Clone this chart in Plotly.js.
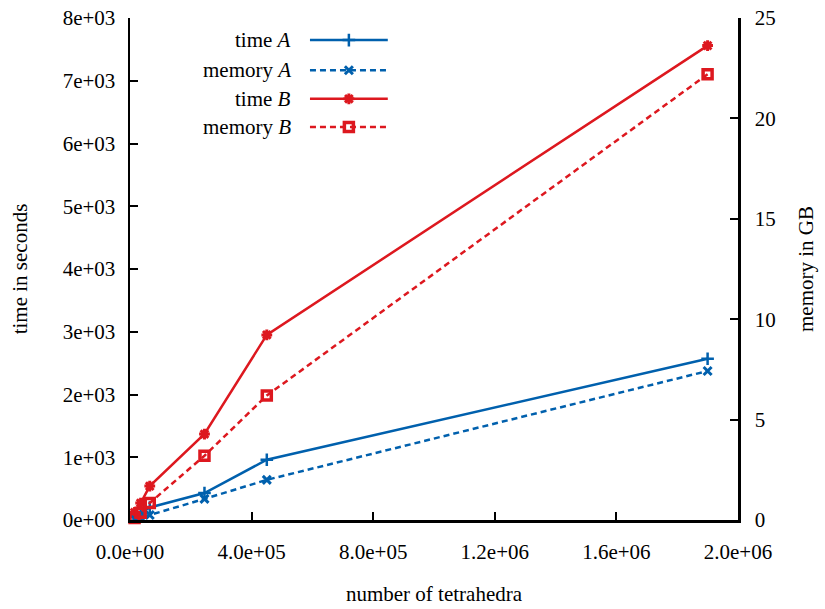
<!DOCTYPE html>
<html>
<head>
<meta charset="utf-8">
<script src="https://cdn.plot.ly/plotly-3.0.1.min.js"></script>
<style>html,body{margin:0;padding:0;background:#fff;}#chart{width:825px;height:609px;}</style>
</head>
<body>
<div id="chart"></div>
<script>
// ---- data ----
const tetrahedra = [15000, 35000, 65000, 245000, 450000, 1900000];
const timeA = [50, 110, 200, 430, 960, 2570];
const memoryA = [0.05, 0.12, 0.25, 1.05, 2.0, 7.42];
const timeB = [120, 270, 540, 1370, 2950, 7560];
const memoryB = [0.1, 0.36, 0.85, 3.2, 6.2, 22.2];

const seriesNames = ['time <i>A</i>', 'memory <i>A</i>', 'time <i>B</i>', 'memory <i>B</i>'];

const xTickVals = [0, 400000, 800000, 1200000, 1600000, 2000000];
const xTickText = ['0.0e+00', '4.0e+05', '8.0e+05', '1.2e+06', '1.6e+06', '2.0e+06'];
const yTickVals = [0, 1000, 2000, 3000, 4000, 5000, 6000, 7000, 8000];
const yTickText = ['0e+00', '1e+03', '2e+03', '3e+03', '4e+03', '5e+03', '6e+03', '7e+03', '8e+03'];
const y2TickVals = [0, 5, 10, 15, 20, 25];
const y2TickText = ['0', '5', '10', '15', '20', '25'];

// ---- styles ----
const BLUE = '#0060ad';
const RED = '#dd181f';
const FONT = 'Liberation Serif, Times New Roman, serif';
const FS = 21;

const styles = [
  {color: BLUE, dash: 'solid', symbol: 'cross-thin-open', size: 9, lw: 2.5, mlw: 2.5, yaxis: 'y'},
  {color: BLUE, dash: '6px,4px', symbol: 'x-thin-open', size: 8, lw: 2.5, mlw: 3, yaxis: 'y2'},
  {color: RED, dash: 'solid', symbol: 'asterisk-open', size: 9, lw: 2.5, mlw: 3, yaxis: 'y'},
  {color: RED, dash: '6px,4px', symbol: 'square-open', size: 9, lw: 2.5, mlw: 3.5, yaxis: 'y2'}
];
const seriesData = [timeA, memoryA, timeB, memoryB];

const traces = seriesData.map((ys, i) => ({
  type: 'scatter', mode: 'lines+markers',
  x: tetrahedra, y: ys, yaxis: styles[i].yaxis,
  name: seriesNames[i], showlegend: false, cliponaxis: false,
  line: {color: styles[i].color, width: styles[i].lw, dash: styles[i].dash},
  marker: {symbol: styles[i].symbol, size: styles[i].size, color: styles[i].color,
           line: {color: styles[i].color, width: styles[i].mlw}},
  hoverinfo: 'skip'
}));

// ---- manual legend (key on the right of the text, gnuplot style) ----
const legRowY = [0.956, 0.896, 0.839, 0.783];
const annotations = [];
seriesNames.forEach((nm, i) => {
  traces.push({
    type: 'scatter', mode: 'lines', xaxis: 'x3', yaxis: 'y3',
    x: [0.296, 0.424], y: [legRowY[i], legRowY[i]], showlegend: false, hoverinfo: 'skip',
    line: {color: styles[i].color, width: styles[i].lw, dash: styles[i].dash}
  });
  traces.push({
    type: 'scatter', mode: 'markers', xaxis: 'x3', yaxis: 'y3',
    x: [0.360], y: [legRowY[i]], showlegend: false, hoverinfo: 'skip',
    marker: {symbol: styles[i].symbol, size: styles[i].size, color: styles[i].color,
             line: {color: styles[i].color, width: styles[i].mlw}}
  });
  annotations.push({
    xref: 'x3', yref: 'y3', x: 0.268, y: legRowY[i], text: nm, showarrow: false,
    xanchor: 'right', yanchor: 'middle', font: {family: FONT, size: FS, color: '#000'}
  });
});

const axisCommon = {
  showgrid: false, zeroline: false, showline: true, linecolor: '#000', linewidth: 2.5,
  ticks: 'inside', ticklen: 8, tickwidth: 2, tickcolor: '#000',
  tickfont: {family: FONT, size: FS, color: '#000'}
};

const layout = {
  width: 825, height: 609,
  margin: {l: 130, r: 87, t: 18, b: 89},
  paper_bgcolor: '#fff', plot_bgcolor: '#fff',
  showlegend: false,
  font: {family: FONT, size: FS, color: '#000'},
  xaxis: Object.assign({}, axisCommon, {
    range: [0, 2000000], tickmode: 'array', tickvals: xTickVals, ticktext: xTickText,
    ticklabelstandoff: 11,
    title: {text: 'number of tetrahedra', font: {family: FONT, size: FS}, standoff: 24}
  }),
  yaxis: Object.assign({}, axisCommon, {
    range: [0, 8000], tickmode: 'array', tickvals: yTickVals, ticktext: yTickText,
    ticklabelstandoff: 8,
    title: {text: 'time in seconds', font: {family: FONT, size: FS}, standoff: 30}
  }),
  yaxis2: Object.assign({}, axisCommon, {
    range: [0, 25], overlaying: 'y', side: 'right', tickmode: 'array',
    tickvals: y2TickVals, ticktext: y2TickText, ticklabelstandoff: 10,
    title: {text: 'memory in GB', font: {family: FONT, size: FS}, standoff: 24}
  }),
  xaxis3: {overlaying: 'x', range: [0, 1], visible: false, fixedrange: true},
  yaxis3: {overlaying: 'y', range: [0, 1], visible: false, fixedrange: true},
  annotations: annotations
};

Plotly.newPlot('chart', traces, layout, {displayModeBar: false, staticPlot: true});
</script>
</body>
</html>
